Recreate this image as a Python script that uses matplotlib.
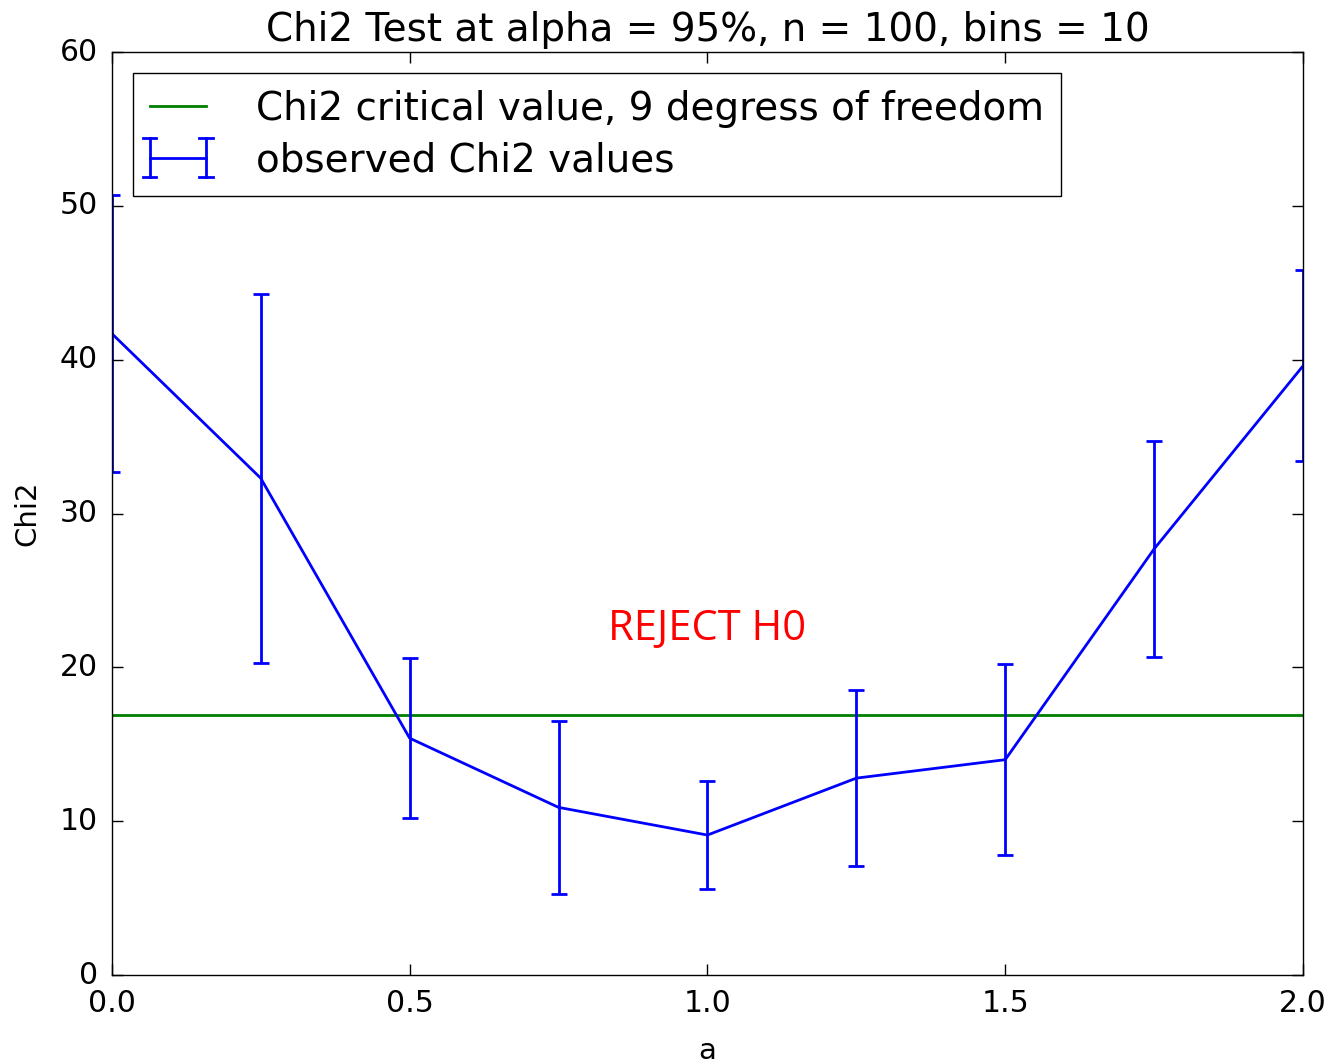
import matplotlib
matplotlib.use("Agg")
import matplotlib.pyplot as plt
from matplotlib.container import ErrorbarContainer
from matplotlib.legend_handler import HandlerBase
from matplotlib.lines import Line2D

# values
a_vals = [0.0, 0.25, 0.5, 0.75, 1.0, 1.25, 1.5, 1.75, 2.0]
chi2_obs = [41.7, 32.3, 15.4, 10.9, 9.1, 12.8, 14.0, 27.7, 39.6]
chi2_err = [9.0, 12.0, 5.2, 5.6, 3.5, 5.7, 6.2, 7.0, 6.2]
chi2_crit = 16.92


# old style errorbar legend key: horizontal line with capped bars at both ends
class OldErrHandler(HandlerBase):
    def create_artists(self, legend, orig_handle, xdescent, ydescent,
                       width, height, fontsize, trans):
        y = height / 2 - ydescent
        x0, x1 = -xdescent, width - xdescent
        h = 0.5 * fontsize
        c = 0.17 * fontsize
        kw = dict(color="b", lw=2, transform=trans)
        arts = [Line2D([x0, x1], [y, y], **kw)]
        for x in (x0, x1):
            arts.append(Line2D([x, x], [y - h, y + h], **kw))
            arts.append(Line2D([x - c, x + c], [y + h, y + h], **kw))
            arts.append(Line2D([x - c, x + c], [y - h, y - h], **kw))
        return arts


plt.style.use("classic")
plt.rcParams["figure.facecolor"] = "white"
plt.rcParams["savefig.facecolor"] = "white"

fig = plt.figure(figsize=(13.31, 10.64), dpi=100)
ax = fig.add_axes([0.084, 0.0836, 0.895, 0.8675])

ax.axhline(chi2_crit, color="g", lw=2, label="Chi2 critical value, 9 degress of freedom")
ax.errorbar(a_vals, chi2_obs, yerr=chi2_err, color="b", lw=2, capsize=6,
            capthick=2, elinewidth=2, label="observed Chi2 values")

ax.text(1.0, 22.5, "REJECT H0", color="red", fontsize=30, family="Open Sans",
        ha="center", va="center")

ax.set_xlim(0, 2.0)
ax.set_ylim(0, 60)
ax.set_xticks([0.0, 0.5, 1.0, 1.5, 2.0])
ax.set_yticks(range(0, 61, 10))
ax.tick_params(labelsize=21.5, length=8, width=1, pad=10)
ax.set_title("Chi2 Test at alpha = 95%, n = 100, bins = 10", fontsize=28, y=1.0, pad=8)
ax.set_xlabel("a", fontsize=21, labelpad=14)
ax.set_ylabel("Chi2", fontsize=21, labelpad=13)

ax.legend(loc="upper left", fontsize=28, numpoints=1, handlelength=1.45,
          handletextpad=1.3, borderaxespad=0.55, borderpad=0.42,
          labelspacing=0.35, handler_map={ErrorbarContainer: OldErrHandler()})

fig.savefig("out.png", dpi=100)
